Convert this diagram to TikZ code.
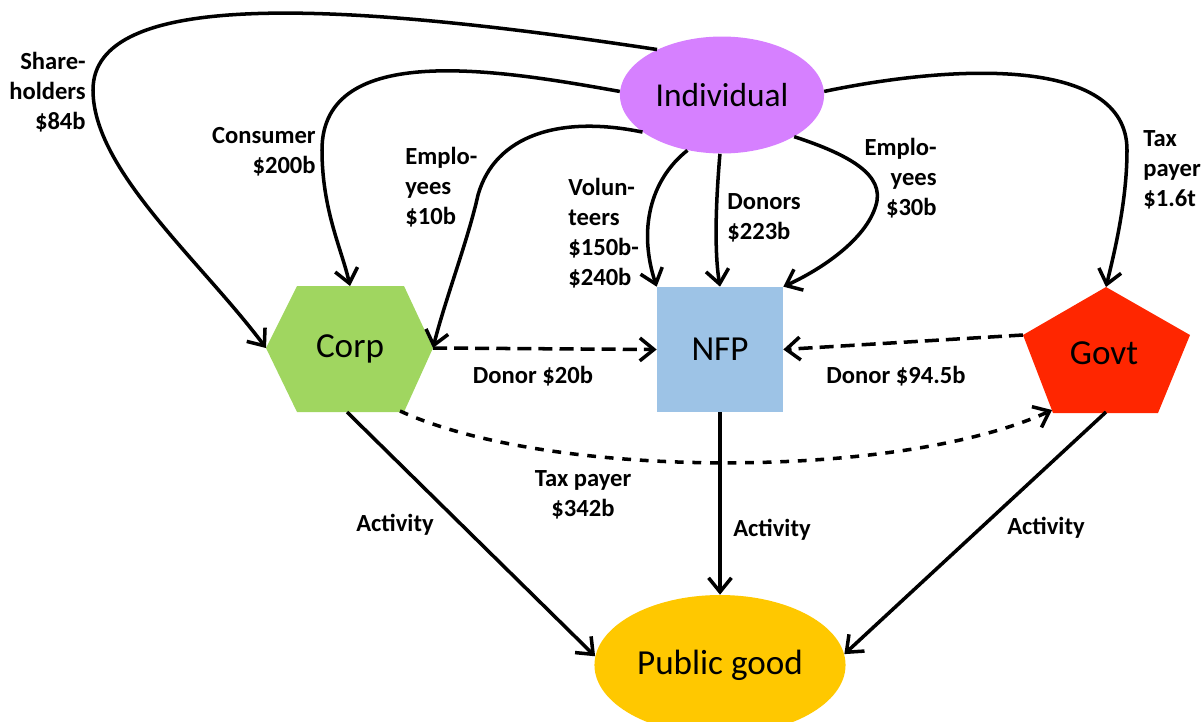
\documentclass[tikz,border=0pt]{standalone}
\usepackage{fontspec}
\setmainfont{Carlito}
\usetikzlibrary{shapes.geometric,arrows.meta}
\definecolor{indcol}{RGB}{214,128,255}
\definecolor{corpcol}{RGB}{160,214,96}
\definecolor{nfpcol}{RGB}{157,195,230}
\definecolor{govcol}{RGB}{255,38,0}
\definecolor{pubcol}{RGB}{255,200,0}

\begin{document}
\begin{tikzpicture}[x=0.02cm, y=-0.02cm,
    big/.style={font=\fontsize{20}{24}\selectfont},
    lab/.style={font=\fontsize{14}{17}\selectfont\bfseries, inner sep=0pt},
    arr/.style={line width=2pt, -{Straight Barb[length=8pt,width=13pt]}},
    dsh/.style={arr, dash pattern=on 8pt off 4pt},
    dshfine/.style={arr, dash pattern=on 5pt off 5pt}]
  \useasboundingbox (0,0) rectangle (1201,721);

  % nodes
  \node[name=ind, ellipse, fill=indcol, minimum width=3.24cm, minimum height=2.34cm, font=\fontsize{19}{23}\selectfont] at (722,95) {Individual};
  \node[name=nfp, rectangle, fill=nfpcol, minimum width=2.52cm, minimum height=2.5cm, big] at (720,349.5) {NFP};
  \node[name=pub, ellipse, fill=pubcol, minimum width=4.88cm, minimum height=2.8cm, big] at (720,665) {Public good};

  \coordinate (corpW) at (266,348);
  \coordinate (corpN) at (350,286);
  \coordinate (corpE) at (433,348);
  \coordinate (corpSE) at (400,411);
  \coordinate (corpS) at (347,412);
  \fill[corpcol] (corpW) -- (297,286) -- (404,286) -- (corpE) -- (404,412) -- (297,412) -- cycle;
  \node[name=corp, big] at (350,349) {Corp};

  \coordinate (govN) at (1106,287);
  \coordinate (govW) at (1023,335);
  \coordinate (govSW) at (1052,410);
  \coordinate (govS) at (1106,412);
  \fill[govcol] (govN) -- (1190,335) -- (1158,413) -- (1053,413) -- (govW) -- cycle;
  \node[name=gov, big] at (1104,353) {Govt};

  % from the individual
  \draw[arr] (ind.145) .. controls (330,0) and (93,-10) .. (93,90) .. controls (93,170) and (200,260) .. (corpW);
  \draw[arr] (ind.178) .. controls (500,70) and (322,40) .. (322,150) .. controls (322,210) and (342,250) .. (corpN);
  \draw[arr] (ind.205) .. controls (560,115) and (495,135) .. (478,195) .. controls (468,240) and (445,300) .. (corpE);
  \draw[arr] (ind.238) .. controls (650,180) and (638,230) .. (nfp.north west);
  \draw[arr] (ind.268) .. controls (716,200) and (714,250) .. (nfp.north);
  \draw[arr] (ind.330) .. controls (850,155) and (885,175) .. (876,205) .. controls (866,240) and (820,270) .. (nfp.north east);
  \draw[arr] (ind.2) .. controls (950,65) and (1127,55) .. (1127,150) .. controls (1127,200) and (1115,250) .. (govN);

  % donations and tax
  \draw[dsh] (corpE) -- (nfp.west);
  \draw[dsh] (govW) -- (nfp.east);
  \draw[dshfine] (corpSE) .. controls (550,480) and (900,480) .. (govSW);

  % activity
  \draw[arr] (corpS) -- (pub.176);
  \draw[arr] (nfp.south) -- (pub.north);
  \draw[arr] (govS) -- (pub.5);

  % labels
  \node[lab, anchor=east, align=right] at (86,92) {Share-\\holders\\\$84b};
  \node[lab, anchor=east, align=right] at (316,152) {Consumer\\\$200b};
  \node[lab, anchor=west, align=left] at (405,187) {Emplo-\\yees\\\$10b};
  \node[lab, anchor=west, align=left] at (568,233) {Volun-\\teers\\\$150b-\\\$240b};
  \node[lab, anchor=west, align=left] at (727,218) {Donors\\\$223b};
  \node[lab, anchor=east, align=right] at (937,178) {Emplo-\\yees\\\$30b};
  \node[lab, anchor=west, align=left] at (1143,170) {Tax\\payer\\\$1.6t};
  \node[lab] at (533,376) {Donor \$20b};
  \node[lab] at (896,376) {Donor \$94.5b};
  \node[lab, align=center] at (583,495) {Tax payer\\\$342b};
  \node[lab] at (395,525) {Activity};
  \node[lab] at (772,530) {Activity};
  \node[lab] at (1046,528) {Activity};
\end{tikzpicture}
\end{document}
